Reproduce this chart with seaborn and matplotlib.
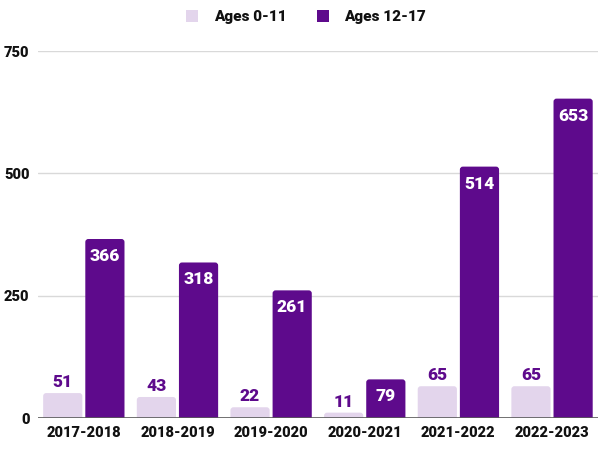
import matplotlib
matplotlib.use('Agg')
import matplotlib.pyplot as plt
from matplotlib.patches import FancyBboxPatch
import seaborn as sns
import pandas as pd

# data
years = ['2017-2018', '2018-2019', '2019-2020', '2020-2021', '2021-2022', '2022-2023']
ages_0_11 = [51, 43, 22, 11, 65, 65]
ages_12_17 = [366, 318, 261, 79, 514, 653]
groups = ['Ages 0-11', 'Ages 12-17']
colors = ['#e3d5ec', '#5e0a8c']

df = pd.DataFrame({
    'year': years * 2,
    'count': ages_0_11 + ages_12_17,
    'group': [groups[0]] * len(years) + [groups[1]] * len(years),
})

sns.set_style('white')
plt.rcParams['font.family'] = ['Roboto', 'DejaVu Sans']
plt.rcParams['font.weight'] = 'black'

fig = plt.figure(figsize=(6.12, 4.49), dpi=100)
ax = fig.add_axes([0.062, 0.069, 0.915, 0.817])

sns.barplot(data=df, x='year', y='count', hue='group', palette=colors,
            width=0.9, gap=0.07, saturation=1, ax=ax, legend=False, zorder=2)

ax.set_xlim(-0.49, 5.49)
ax.set_ylim(0, 750)
ax.set_yticks([0, 250, 500, 750])
ax.grid(axis='y', color='#d9d9d9', lw=1, zorder=0)
ax.set_axisbelow(True)
for s in ax.spines.values():
    s.set_visible(False)
ax.axhline(0, color='#5a5a5a', lw=1.2, zorder=4)
ax.set_xlabel('')
ax.set_ylabel('')
ax.tick_params(axis='both', length=0, labelsize=10.5, labelcolor='#111111')
ax.tick_params(axis='x', pad=6)
ax.tick_params(axis='y', pad=6)

# rounded tops: swap each bar for a rounded box of the same geometry
px_x = 5.98 / (0.915 * 612)
px_y = 750 / (0.817 * 449)
aspect = px_y / px_x
for cont, col, vals in zip(ax.containers, colors, [ages_0_11, ages_12_17]):
    for bar, v in zip(cont, vals):
        x0, w, h = bar.get_x(), bar.get_width(), bar.get_height()
        bar.set_visible(False)
        r = 3 * px_x
        box = FancyBboxPatch((x0, -20), w, h + 20,
                             boxstyle=f'round,pad=0,rounding_size={r}',
                             mutation_aspect=aspect, fc=col, ec='none', zorder=2)
        ax.add_patch(box)
        cx = x0 + w / 2
        if col == colors[1]:
            ax.text(cx, h - 9 * px_y, str(v), ha='center', va='top',
                    color='white', fontsize=12.5, fontweight='black', zorder=5)
        else:
            ax.text(cx, h + 3 * px_y, str(v), ha='center', va='bottom',
                    color=colors[1], fontsize=12.5, fontweight='black', zorder=5)

handles = [plt.Rectangle((0, 0), 1, 1, fc=c, ec='none') for c in colors]
fig.legend(handles, groups, loc='center', bbox_to_anchor=(0.5, 0.962), ncol=2,
           frameon=False, fontsize=11, handlelength=0.8, handleheight=0.8,
           columnspacing=2.0, handletextpad=1.0, labelcolor='#111111')

fig.savefig('out.png', dpi=100)
